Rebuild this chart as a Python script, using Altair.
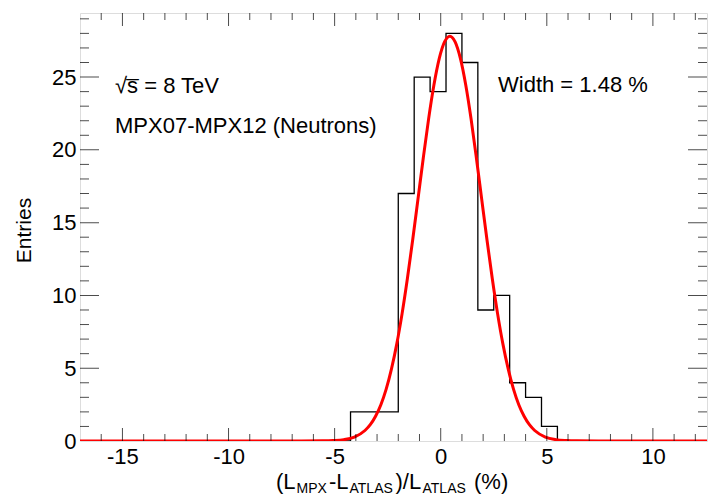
import altair as alt
import pandas as pd

# ---------------- data ----------------
# histogram (left bin edges, counts; last entry closes the outline)
bin_left = [-17.0, -4.25, -3.5, -2.75, -2.0, -1.25, -0.5, 0.25, 1.0, 1.75,
            2.5, 3.25, 4.0, 4.75, 5.5, 12.55]
bin_count = [0, 2, 2, 2, 17, 25, 24, 28, 26, 9, 10, 4, 3, 1, 0, 0]

# fitted gaussian curve
fit_x = [-17.0, -6.57, -5.57, -5.07, -4.57, -4.07, -3.57, -3.32, -3.07, -2.82,
         -2.57, -2.32, -2.07, -1.82, -1.57, -1.32, -1.07, -0.82, -0.57, -0.32,
         -0.07, 0.18, 0.43, 0.68, 0.93, 1.18, 1.43, 1.68, 1.93, 2.18,
         2.43, 2.68, 2.93, 3.18, 3.43, 3.68, 3.93, 4.18, 4.43, 4.93,
         5.43, 5.93, 6.43, 7.43, 12.55]
fit_y = [0.0, 0.0, 0.01, 0.03, 0.09, 0.27, 0.72, 1.12, 1.70, 2.49,
         3.56, 4.95, 6.67, 8.75, 11.16, 13.82, 16.63, 19.46, 22.13, 24.45,
         26.26, 27.41, 27.8, 27.41, 26.26, 24.45, 22.13, 19.46, 16.63, 13.82,
         11.16, 8.75, 6.67, 4.95, 3.56, 2.49, 1.70, 1.12, 0.72, 0.27,
         0.09, 0.03, 0.01, 0.0, 0.0]

x_labels = [-15, -10, -5, 0, 5, 10]
x_minor = [v for v in range(-16, 13) if v % 5 != 0]
y_labels = [0, 5, 10, 15, 20, 25]
y_minor = [v for v in range(1, 30) if v % 5 != 0]

X_MIN, X_MAX = -17.0, 12.55
Y_MIN, Y_MAX = 0.0, 29.4

FONT = "Liberation Sans"
W, H = 627, 428

xs = alt.Scale(domain=[X_MIN, X_MAX], nice=False, zero=False)
ys = alt.Scale(domain=[Y_MIN, Y_MAX], nice=False, zero=False)

x_axis = alt.Axis(
    values=x_labels, title=None, grid=False, domain=False, ticks=False,
    tickSize=0, labelFont=FONT, labelFontSize=22, labelColor="black",
    labelPadding=5, labelFlush=False, labelOverlap=False,
    labelExpr="datum.value < 0 ? '-' + abs(datum.value) : '' + datum.value")
y_axis = alt.Axis(
    values=y_labels, title="Entries", grid=False, domain=False, ticks=False,
    tickSize=0, labelFont=FONT, labelFontSize=22, labelColor="black",
    labelPadding=4, labelFlush=False, labelOverlap=False,
    titleFont=FONT, titleFontSize=21, titleFontWeight="normal",
    titleColor="black", titleAngle=270, titleX=-50, titleY=217,
    titleAlign="center", titleBaseline="alphabetic")

X = lambda: alt.X("x:Q", scale=xs, axis=x_axis)
Y = lambda: alt.Y("y:Q", scale=ys, axis=y_axis)

hist_df = pd.DataFrame({"x": bin_left, "y": bin_count})
fit_df = pd.DataFrame({"x": fit_x, "y": fit_y})

hist = alt.Chart(hist_df).mark_line(
    interpolate="step-after", color="black", strokeWidth=1.3, clip=True
).encode(x=X(), y=Y())

fit = alt.Chart(fit_df).mark_line(
    interpolate="monotone", color="#ff0000", strokeWidth=3, clip=True
).encode(x=X(), y=Y())


def vticks(values, at, size):
    df = pd.DataFrame({"x": values, "y": [at] * len(values)})
    return alt.Chart(df).mark_tick(
        orient="vertical", size=size, thickness=1, color="black", clip=True
    ).encode(x=X(), y=Y())


def hticks(values, at, size):
    df = pd.DataFrame({"y": values, "x": [at] * len(values)})
    return alt.Chart(df).mark_tick(
        orient="horizontal", size=size, thickness=1, color="black", clip=True
    ).encode(x=X(), y=Y())


tick_layers = [
    vticks(x_labels, Y_MIN, 26), vticks(x_minor, Y_MIN, 14),
    vticks(x_labels, Y_MAX, 26), vticks(x_minor, Y_MAX, 14),
    hticks(y_labels[1:], X_MIN, 38), hticks(y_minor, X_MIN, 18),
    hticks(y_labels[1:], X_MAX, 38), hticks(y_minor, X_MAX, 18),
]


def label(text, px, py, size=22):
    return alt.Chart(pd.DataFrame({"t": [text]})).mark_text(
        font=FONT, fontSize=size, color="black", align="left",
        baseline="alphabetic"
    ).encode(text="t:N", x=alt.value(px), y=alt.value(py))


texts = [
    label("\u221as\u0305 = 8 TeV", 35, 80),
    label("MPX07-MPX12 (Neutrons)", 35, 120),
    label("Width = 1.48 %", 418, 79),
    # x-axis title with subscripts
    label("(L", 196, 476),
    label("MPX", 216.5, 479.5, 14),
    label("-L", 249, 476),
    label("ATLAS", 269.5, 479.5, 14),
    label(")/L", 315.5, 476),
    label("ATLAS", 342.5, 479.5, 14),
    label("(%)", 394, 476),
]

chart = alt.layer(hist, fit, *tick_layers, *texts).properties(
    width=W, height=H,
    autosize=alt.AutoSizeParams(type="none"),
    padding={"left": 80, "top": 13, "right": 1, "bottom": 54},
).configure_view(
    stroke="black", strokeWidth=1
).configure(background="white")

chart.save("out.html", embed_options={"renderer": "svg", "actions": False})
